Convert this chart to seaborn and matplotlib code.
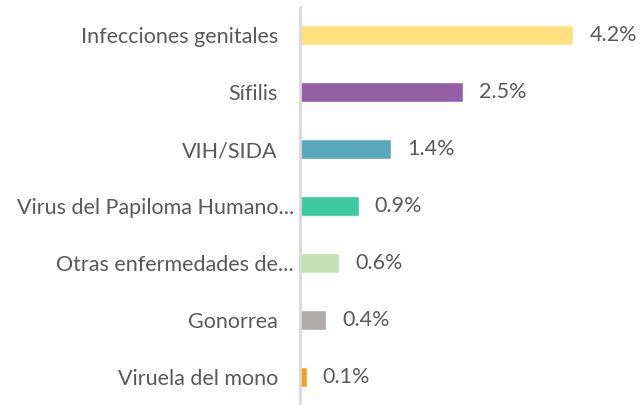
import matplotlib
matplotlib.use("Agg")
import matplotlib.pyplot as plt
import matplotlib.transforms as mtransforms
import seaborn as sns
import pandas as pd

categories = [
    "Infecciones genitales",
    "Sífilis",
    "VIH/SIDA",
    "Virus del Papiloma Humano...",
    "Otras enfermedades de...",
    "Gonorrea",
    "Viruela del mono",
]
values = [4.2, 2.5, 1.4, 0.9, 0.6, 0.4, 0.1]
colors = ["#FFE07F", "#955FA5", "#5BA8BD", "#3CC99E", "#C6E0B4", "#AFABAB", "#F5A01E"]

sns.set_style("white")
plt.rcParams["font.family"] = ["Lato", "DejaVu Sans"]

df = pd.DataFrame({"cat": categories, "val": values})

fig = plt.figure(figsize=(6.41, 4.05), dpi=100)
ax = fig.add_axes([300 / 641, 0.0, 341 / 641, 398 / 405])

sns.barplot(data=df, x="val", y="cat", hue="cat", palette=colors,
            legend=False, width=0.35, saturation=1, ax=ax)

text_color = "#595959"
for i, v in enumerate(values):
    ax.text(v + 0.25, i, f"{v:.1f}%", va="center", ha="left",
            fontsize=15.5, color=text_color)

ax.set_xlim(0, 341 / 65)
ax.set_ylim(6.5, -0.5)
ax.set_xlabel("")
ax.set_ylabel("")
ax.set_xticks([])
ax.tick_params(axis="y", length=0, pad=16, labelsize=15.5, labelcolor=text_color)

# truncated labels sit closer to the axis, with the ellipsis running past the others
shift = mtransforms.ScaledTranslation(16 / 100, 0, fig.dpi_scale_trans)
for lbl in ax.get_yticklabels():
    if lbl.get_text().endswith("..."):
        lbl.set_transform(lbl.get_transform() + shift)

for s in ["top", "right", "bottom"]:
    ax.spines[s].set_visible(False)
ax.spines["left"].set_color("#D9D9D9")
ax.spines["left"].set_linewidth(2)

fig.savefig("out.png", dpi=100)
